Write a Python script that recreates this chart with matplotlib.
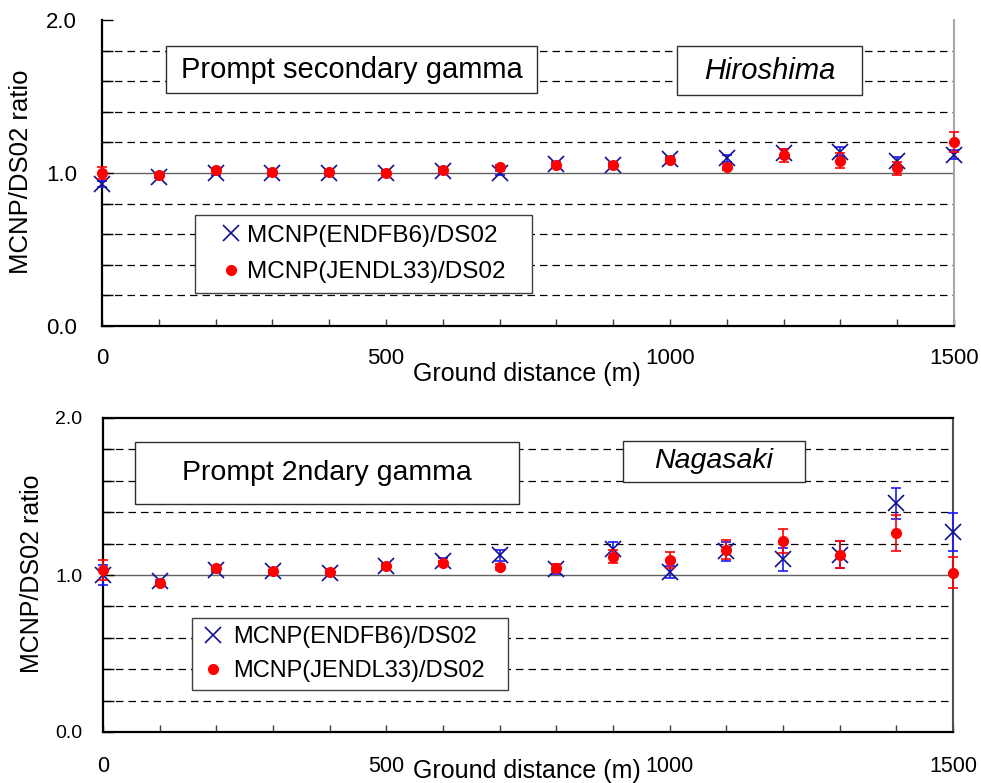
import numpy as np
import matplotlib
matplotlib.use("Agg")
import matplotlib.pyplot as plt
from matplotlib.patches import Rectangle

plt.rcParams['font.family'] = ['Liberation Sans', 'DejaVu Sans']

# ground distance (m)
distance = [0, 100, 200, 300, 400, 500, 600, 700, 800, 900, 1000, 1100, 1200, 1300, 1400, 1500]

# Hiroshima, prompt secondary gamma
hiro_endf = [0.93, 0.975, 1.00, 1.00, 1.00, 1.00, 1.01, 1.00, 1.06, 1.05, 1.09, 1.095, 1.13, 1.14, 1.08, 1.12]
hiro_endf_err = [0.02, 0.01, 0.01, 0.01, 0.01, 0.01, 0.01, 0.01, 0.01, 0.01, 0.015, 0.02, 0.025, 0.03, 0.025, 0.03]
hiro_jendl = [1.00, 0.99, 1.02, 1.005, 1.005, 1.00, 1.02, 1.04, 1.055, 1.055, 1.085, 1.04, 1.115, 1.08, 1.03, 1.20]
hiro_jendl_err = [0.04, 0.01, 0.01, 0.01, 0.01, 0.01, 0.01, 0.01, 0.01, 0.01, 0.01, 0.02, 0.04, 0.05, 0.04, 0.065]

# Nagasaki, prompt 2ndary gamma
naga_endf = [1.00, 0.96, 1.03, 1.025, 1.015, 1.055, 1.09, 1.127, 1.036, 1.163, 1.02, 1.15, 1.10, 1.13, 1.457, 1.276]
naga_endf_err = [0.064, 0.01, 0.01, 0.01, 0.01, 0.015, 0.02, 0.035, 0.03, 0.05, 0.04, 0.06, 0.073, 0.085, 0.098, 0.12]
naga_jendl = [1.03, 0.947, 1.043, 1.025, 1.02, 1.055, 1.075, 1.053, 1.047, 1.117, 1.095, 1.16, 1.217, 1.13, 1.265, 1.015]
naga_jendl_err = [0.065, 0.01, 0.01, 0.01, 0.01, 0.01, 0.015, 0.02, 0.02, 0.04, 0.05, 0.06, 0.074, 0.085, 0.115, 0.10]

x_labels = {0: "0", 500: "500", 1000: "1000", 1500: "1500"}
y_labels = {0.0: "0.0", 1.0: "1.0", 2.0: "2.0"}

W, H = 981, 783
NAVY = '#10108f'
BLUE = '#1a1aff'
RED = '#ff0000'


def fx(px):
    return px / W


def fy(py):
    return 1 - py / H


def box(fig, x0, y0, x1, y1):
    fig.add_artist(Rectangle((fx(x0), fy(y1)), fx(x1) - fx(x0), fy(y0) - fy(y1),
                             transform=fig.transFigure, facecolor='white',
                             edgecolor='#303030', lw=1.0, zorder=5))


def draw_panel(ax, endf, endf_err, jendl, jendl_err, xtick_size, ytick_size, ypad, xpad):
    ax.set_xlim(0, 1500)
    ax.set_ylim(0, 2)

    # gridlines, 1.0 drawn solid
    for v in np.arange(0.2, 1.9, 0.2):
        if abs(v - 1.0) < 1e-6:
            ax.axhline(v, color='#606060', lw=1.0, zorder=1)
        else:
            ax.axhline(v, color='black', lw=0.9, ls=(0, (6, 4)), zorder=1)

    ax.errorbar(distance, endf, yerr=endf_err, fmt='none', ecolor=BLUE,
                elinewidth=1.2, capsize=3.5, capthick=1.2, zorder=3, clip_on=False)
    ax.plot(distance, endf, 'x', color=NAVY, ms=11, mew=1.2, zorder=3,
            clip_on=False, label="MCNP(ENDFB6)/DS02")
    ax.errorbar(distance, jendl, yerr=jendl_err, fmt='none', ecolor=RED,
                elinewidth=1.2, capsize=3.5, capthick=1.2, zorder=4, clip_on=False)
    ax.plot(distance, jendl, 'o', color=RED, ms=7, mec=RED, zorder=4,
            clip_on=False, label="MCNP(JENDL33)/DS02")

    ax.set_xticks(distance)
    ax.set_xticklabels([x_labels.get(d, "") for d in distance])
    yt = np.round(np.arange(0, 2.01, 0.2), 1)
    ax.set_yticks(yt)
    ax.set_yticklabels([y_labels.get(v, "") for v in yt])
    ax.tick_params(axis='x', direction='in', length=5, width=1, color='#404040',
                   labelsize=xtick_size, pad=xpad)
    ax.tick_params(axis='y', direction='in', length=8, width=1, color='black',
                   labelsize=ytick_size, pad=ypad)

    ax.spines['left'].set_linewidth(1.6)
    ax.spines['bottom'].set_linewidth(1.6)


fig = plt.figure(figsize=(W / 100, H / 100), dpi=100)

# top panel: Hiroshima
ax1 = fig.add_axes([fx(102), fy(326), fx(954) - fx(102), fy(20) - fy(326)])
draw_panel(ax1, hiro_endf, hiro_endf_err, hiro_jendl, hiro_jendl_err, 16, 16, 18, 16)
ax1.spines['top'].set_visible(False)
ax1.spines['right'].set_color('#a8a8a8')
ax1.spines['right'].set_linewidth(1.5)

# bottom panel: Nagasaki
ax2 = fig.add_axes([fx(103), fy(732), fx(953) - fx(103), fy(418) - fy(732)])
draw_panel(ax2, naga_endf, naga_endf_err, naga_jendl, naga_jendl_err, 15.5, 14, 15, 17)
ax2.spines['top'].set_linewidth(1.6)
ax2.spines['right'].set_color('#505050')
ax2.spines['right'].set_linewidth(1.5)

# axis titles
fig.text(fx(21), fy(172), "MCNP/DS02 ratio", rotation=90, ha='center', va='center', fontsize=18.5)
fig.text(fx(32), fy(574), "MCNP/DS02 ratio", rotation=90, ha='center', va='center', fontsize=18)
fig.text(fx(527), fy(374), "Ground distance (m)", ha='center', va='center', fontsize=18)
fig.text(fx(527), fy(771), "Ground distance (m)", ha='center', va='center', fontsize=18)

# annotation boxes
box(fig, 166, 46, 537, 93)
fig.text(fx((166 + 537) / 2), fy(70), "Prompt secondary gamma", ha='center', va='center',
         fontsize=21, zorder=6)
box(fig, 677, 46, 862, 95)
fig.text(fx((677 + 862) / 2), fy(71), "Hiroshima", ha='center', va='center',
         fontsize=21, style='italic', zorder=6)
box(fig, 135, 442, 519, 504)
fig.text(fx((135 + 519) / 2), fy(473), "Prompt 2ndary gamma", ha='center', va='center',
         fontsize=20.5, zorder=6)
box(fig, 623, 441, 805, 482)
fig.text(fx((623 + 805) / 2), fy(461), "Nagasaki", ha='center', va='center',
         fontsize=20.5, style='italic', zorder=6)

# legends
leg1 = ax1.legend(loc='upper left', bbox_to_anchor=(fx(195), fy(299), fx(532) - fx(195), fy(215) - fy(299)),
                  bbox_transform=fig.transFigure, mode='expand', borderaxespad=0,
                  fontsize=17.5, borderpad=0.4, labelspacing=0.6, handlelength=2.2,
                  handletextpad=-0.45, fancybox=False, framealpha=1, edgecolor='#404040')
leg1.get_frame().set_linewidth(1.0)
leg1.set_zorder(7)

leg2 = ax2.legend(loc='upper left', bbox_to_anchor=(fx(192), fy(692), fx(508) - fx(192), fy(618) - fy(692)),
                  bbox_transform=fig.transFigure, mode='expand', borderaxespad=0,
                  fontsize=17, borderpad=0.35, labelspacing=0.5, handlelength=1.1,
                  handletextpad=0.3, fancybox=False, framealpha=1, edgecolor='#404040')
leg2.get_frame().set_linewidth(1.0)
leg2.set_zorder(7)

fig.savefig("out.png", dpi=100)
